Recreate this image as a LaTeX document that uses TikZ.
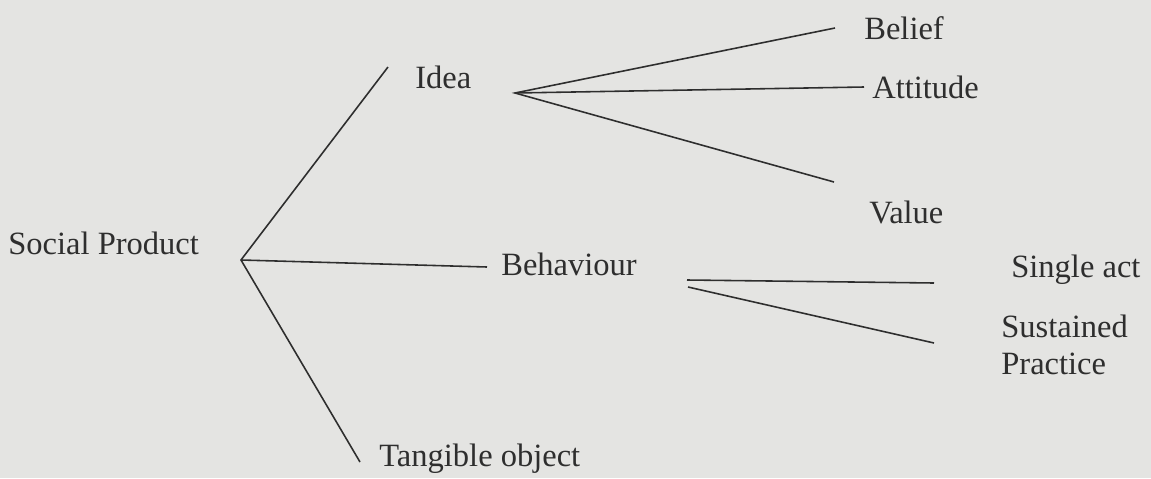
\documentclass[tikz,border=0pt]{standalone}
\usepackage{fontspec}
\setmainfont{Liberation Serif}
\usepackage{xcolor}
\usepackage{tikz}
\usetikzlibrary{positioning}
\definecolor{cPaper}{HTML}{E4E4E2}
\definecolor{cInk}{HTML}{2E2E2E}
\tikzset{
  lbl/.style={anchor=west, inner sep=0pt, text=cInk, align=left,
              font=\fontsize{18.5}{21}\selectfont},
  twig/.style={draw=cInk, line width=0.9pt},
}

\begin{document}
\begin{tikzpicture}[x=0.2mm, y=-0.2mm]
\fill[cPaper] (0,0) rectangle (1151,478);
\useasboundingbox (0,0) rectangle (1151,478);
% labels
\node[lbl] (prod) at (8,243) {Social Product};
\node[lbl] (idea) at (415,77) {Idea};
\node[lbl] (beh) at (501,264) {Behaviour};
\node[lbl] (obj) at (379,459) {Tangible object};
\node[lbl] (belief) at (864,28) {Belief};
\node[lbl] (att) at (872,87) {Attitude};
\node[lbl] (val) at (869,212) {Value};
\node[lbl] (single) at (1011,270) {Single act};
\node[lbl] (sust) at (1001,345) {Sustained\\Practice};
% branch points and line ends
\coordinate (pRoot) at (241,260);
\coordinate (pIdea) at (515,93);
\coordinate (pBehA) at (687,280);
\coordinate (pBehB) at (688,287);
\coordinate (eIdea) at (388,67);
\coordinate (eBeh) at (487,267);
\coordinate (eObj) at (360,462);
\coordinate (eBelief) at (835,28);
\coordinate (eAtt) at (864,87);
\coordinate (eVal) at (834,182);
\coordinate (eSingle) at (934,283);
\coordinate (eSust) at (934,343);
\draw[twig] (eIdea) -- (pRoot) -- (eObj);
\draw[twig] (pRoot) -- (eBeh);
\draw[twig] (eBelief) -- (pIdea) -- (eVal);
\draw[twig] (pIdea) -- (eAtt);
\draw[twig] (pBehA) -- (eSingle);
\draw[twig] (pBehB) -- (eSust);
\end{tikzpicture}
\end{document}
